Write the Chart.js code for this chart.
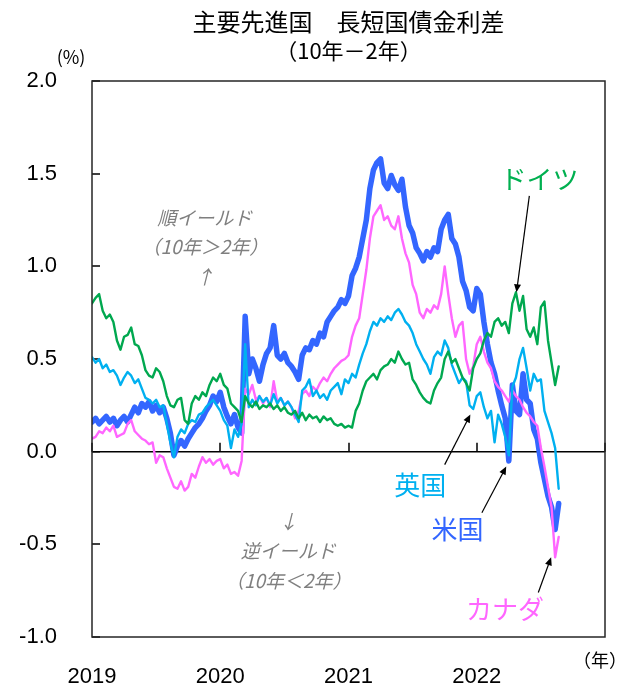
<!DOCTYPE html>
<html>
<head>
<meta charset="utf-8">
<script src="https://cdn.jsdelivr.net/npm/chart.js@4.4.1/dist/chart.umd.min.js"></script>
<style>
  html, body { margin: 0; padding: 0; background: #ffffff; }
  canvas { display: block; }
</style>
</head>
<body>
<canvas id="spreadChart" width="635" height="689"></canvas>
<script>
// 10-year minus 2-year government bond yield spread (%), three readings per month from Jan 2019
const START_YEAR = 2019;
const STEPS_PER_YEAR = 36;
const yearLabels = [2019, 2020, 2021, 2022];

const usSpread = [
  0.16, 0.18, 0.15, 0.17, 0.19, 0.16, 0.18, 0.14, 0.17, 0.19, 0.16, 0.20,
  0.24, 0.21, 0.26, 0.24, 0.27, 0.22, 0.25, 0.21, 0.24, 0.18, 0.10, -0.02,
  0.03, 0.06, 0.03, 0.07, 0.10, 0.13, 0.15, 0.18, 0.22, 0.25, 0.30, 0.27,
  0.32, 0.24, 0.19, 0.15, 0.20, 0.13, 0.10, 0.73, 0.42, 0.50, 0.45, 0.38,
  0.47, 0.53, 0.56, 0.68, 0.52, 0.50, 0.53, 0.48, 0.46, 0.43, 0.39, 0.52,
  0.56, 0.55, 0.60, 0.58, 0.64, 0.62, 0.70, 0.73, 0.76, 0.78, 0.82, 0.80,
  0.84, 0.95, 0.99, 1.05, 1.15, 1.25, 1.42, 1.52, 1.56, 1.58, 1.45, 1.42,
  1.49, 1.44, 1.41, 1.47, 1.32, 1.22, 1.18, 1.10, 1.07, 1.03, 1.08, 1.05,
  1.10, 1.08, 1.20, 1.25, 1.28, 1.15, 1.12, 1.05, 0.92, 0.87, 0.78, 0.76,
  0.88, 0.85, 0.70, 0.58, 0.48, 0.42, 0.33, 0.25, 0.18, -0.05, 0.36, 0.22,
  0.20, 0.42, 0.28, 0.26, 0.12, 0.07, -0.06, -0.15, -0.24, -0.30, -0.42, -0.28
];

const ukSpread = [
  0.51, 0.48, 0.50, 0.45, 0.47, 0.43, 0.44, 0.41, 0.36, 0.40, 0.43, 0.41,
  0.37, 0.39, 0.34, 0.29, 0.28, 0.26, 0.28, 0.24, 0.25, 0.15, 0.05, -0.03,
  0.08, 0.12, 0.10, 0.15, 0.17, 0.16, 0.20, 0.21, 0.24, 0.26, 0.28, 0.25,
  0.22, 0.17, 0.14, 0.02, 0.12, 0.08, 0.15, 0.58, 0.24, 0.28, 0.25, 0.30,
  0.27, 0.29, 0.25, 0.31, 0.26, 0.29, 0.25, 0.27, 0.24, 0.20, 0.16, 0.33,
  0.35, 0.39, 0.30, 0.33, 0.29, 0.31, 0.28, 0.33, 0.35, 0.37, 0.31, 0.39,
  0.37, 0.42, 0.40, 0.47, 0.53, 0.58, 0.65, 0.70, 0.68, 0.72, 0.70, 0.73,
  0.71, 0.75, 0.77, 0.74, 0.70, 0.68, 0.64, 0.58, 0.54, 0.50, 0.47, 0.42,
  0.51, 0.54, 0.52, 0.60, 0.56, 0.47, 0.42, 0.37, 0.40, 0.38, 0.25, 0.23,
  0.30, 0.32, 0.24, 0.18, 0.22, 0.05, 0.20, 0.15, 0.08, -0.02, 0.35, 0.40,
  0.50, 0.56, 0.45, 0.33, 0.42, 0.38, 0.39, 0.22, 0.16, 0.10, 0.02, -0.20
];

const deSpread = [
  0.80, 0.83, 0.85, 0.76, 0.72, 0.74, 0.70, 0.60, 0.55, 0.62, 0.63, 0.67,
  0.58, 0.57, 0.52, 0.44, 0.41, 0.40, 0.45, 0.43, 0.38, 0.30, 0.25, 0.24,
  0.28, 0.29, 0.17, 0.15, 0.26, 0.30, 0.28, 0.32, 0.30, 0.36, 0.40, 0.38,
  0.42, 0.36, 0.34, 0.26, 0.24, 0.22, 0.16, 0.30, 0.26, 0.24, 0.27, 0.23,
  0.25, 0.24, 0.26, 0.23, 0.25, 0.22, 0.24, 0.21, 0.20, 0.22, 0.18, 0.21,
  0.17, 0.20, 0.18, 0.19, 0.16, 0.19, 0.17, 0.18, 0.15, 0.14, 0.15, 0.13,
  0.14, 0.13, 0.22, 0.26, 0.33, 0.38, 0.40, 0.42, 0.39, 0.44, 0.46, 0.47,
  0.50, 0.48, 0.54, 0.50, 0.47, 0.48, 0.39, 0.36, 0.32, 0.29, 0.27, 0.26,
  0.33, 0.37, 0.40, 0.50, 0.54, 0.48, 0.50, 0.45, 0.40, 0.37, 0.33, 0.45,
  0.50, 0.53, 0.60, 0.64, 0.62, 0.70, 0.72, 0.68, 0.70, 0.64, 0.80, 0.86,
  0.76, 0.84, 0.66, 0.62, 0.67, 0.58, 0.78, 0.81, 0.60, 0.48, 0.36, 0.46
];

const caSpread = [
  0.07, 0.08, 0.11, 0.10, 0.13, 0.11, 0.14, 0.08, 0.09, 0.10, 0.15, 0.17,
  0.11, 0.09, 0.07, 0.06, 0.04, 0.05, -0.06, -0.02, -0.03, -0.09, -0.14, -0.19,
  -0.20, -0.16, -0.21, -0.19, -0.12, -0.14, -0.08, -0.03, -0.06, -0.04, -0.07, -0.05,
  -0.04, -0.09, -0.07, -0.12, -0.11, -0.13, -0.05, 0.34, 0.31, 0.36, 0.28, 0.30,
  0.26, 0.29, 0.24, 0.38, 0.27, 0.29, 0.25, 0.27, 0.24, 0.18, 0.22, 0.31,
  0.33, 0.30, 0.35, 0.33, 0.37, 0.40, 0.38, 0.42, 0.45, 0.47, 0.49, 0.50,
  0.52, 0.62, 0.68, 0.72, 0.85, 0.98, 1.15, 1.27, 1.30, 1.33, 1.25, 1.27,
  1.22, 1.20, 1.27, 1.15, 1.07, 1.02, 0.90, 0.85, 0.75, 0.72, 0.77, 0.75,
  0.79, 0.77, 0.85, 1.00, 0.85, 0.72, 0.62, 0.68, 0.70, 0.50, 0.42, 0.46,
  0.58, 0.62, 0.54, 0.48, 0.45, 0.38, 0.35, 0.33, 0.30, 0.27, 0.33, 0.30,
  0.28, 0.24, 0.21, 0.19, 0.16, 0.14, 0.02, -0.08, -0.19, -0.30, -0.57, -0.46
];

const FONT_JP = "'Noto Sans CJK JP', 'Noto Sans', sans-serif";
const FONT_NUM = "'Liberation Sans', 'DejaVu Sans', sans-serif";

const toPoints = (values) => values.map((v, i) => ({ x: START_YEAR + i / STEPS_PER_YEAR, y: v }));

const lineSet = (label, values, color, width) => ({
  label,
  data: toPoints(values),
  borderColor: color,
  backgroundColor: color,
  borderWidth: width,
  pointRadius: 0,
  tension: 0,
  borderJoinStyle: 'round',
  borderCapStyle: 'round',
  fill: false
});

// Text notes and pointer arrows, placed in data units (year, %)
const seriesNotes = [
  { text: 'ドイツ', color: '#00B050', at: [2022.49, 1.47], from: [2022.41, 1.38], to: [2022.31, 0.86] },
  { text: '英国', color: '#00B0F0', at: [2021.56, -0.18], from: [2021.75, -0.07], to: [2021.95, 0.20] },
  { text: '米国', color: '#3366FF', at: [2021.85, -0.42], from: [2022.04, -0.33], to: [2022.23, -0.08] },
  { text: 'カナダ', color: '#FF66FF', at: [2022.22, -0.85], from: [2022.48, -0.76], to: [2022.58, -0.57] }
];
const yieldNotes = [
  { lines: ['順イールド', '（10年＞2年）', '↑'], at: [2019.88, 1.263], dy: -0.16 },
  { lines: ['↓', '逆イールド', '（10年＜2年）'], at: [2020.53, -0.378], dy: -0.158 }
];

const decorPlugin = {
  id: 'decor',
  beforeDatasetsDraw(chart) {
    const { ctx, chartArea: a, scales: { x, y } } = chart;
    ctx.save();
    ctx.strokeStyle = '#000000';
    ctx.lineWidth = 1.5;
    const y0 = y.getPixelForValue(0);
    ctx.beginPath();
    ctx.moveTo(a.left, y0);
    ctx.lineTo(a.right, y0);
    // year tick marks standing on the zero line
    x.ticks.forEach(t => {
      const px = Math.round(x.getPixelForValue(t.value));
      ctx.moveTo(px, y0);
      ctx.lineTo(px, y0 - 9);
    });
    // inward value tick marks on the left frame
    y.ticks.forEach(t => {
      const py = Math.round(y.getPixelForValue(t.value));
      ctx.moveTo(a.left, py);
      ctx.lineTo(a.left + 8, py);
    });
    ctx.stroke();
    ctx.restore();
  },
  afterDraw(chart) {
    const { ctx, chartArea: a, scales: { x, y } } = chart;
    const px = (p) => [x.getPixelForValue(p[0]), y.getPixelForValue(p[1])];
    ctx.save();

    // plot frame
    ctx.strokeStyle = '#262626';
    ctx.lineWidth = 1.5;
    ctx.strokeRect(a.left, a.top, a.width, a.height);

    // title
    const cx = (a.left + a.right) / 2;
    ctx.fillStyle = '#000000';
    ctx.textAlign = 'center';
    ctx.textBaseline = 'middle';
    ctx.font = `24px ${FONT_JP}`;
    ctx.fillText('主要先進国　長短国債金利差', cx, 22);
    ctx.font = `22px ${FONT_JP}`;
    ctx.fillText('（10年－2年）', cx, 51);

    // unit labels
    ctx.font = `18px ${FONT_JP}`;
    ctx.fillText('(%)', 71, 57);
    ctx.fillText('（年）', 600, 660);

    // yield curve notes
    ctx.fillStyle = '#7F7F7F';
    ctx.font = `italic 19px ${FONT_JP}`;
    yieldNotes.forEach(n => {
      n.lines.forEach((s, k) => {
        const [tx, ty] = px([n.at[0], n.at[1] + n.dy * k]);
        ctx.fillText(s, tx, ty);
      });
    });

    // series names with pointer arrows
    seriesNotes.forEach(n => {
      const [tx, ty] = px(n.at);
      ctx.fillStyle = n.color;
      ctx.font = `26px ${FONT_JP}`;
      ctx.fillText(n.text, tx, ty);

      const [x1, y1] = px(n.from);
      const [x2, y2] = px(n.to);
      const ang = Math.atan2(y2 - y1, x2 - x1);
      const head = 8, half = 3.5;
      ctx.strokeStyle = '#000000';
      ctx.fillStyle = '#000000';
      ctx.lineWidth = 1.2;
      ctx.beginPath();
      ctx.moveTo(x1, y1);
      ctx.lineTo(x2 - Math.cos(ang) * head * 0.8, y2 - Math.sin(ang) * head * 0.8);
      ctx.stroke();
      ctx.beginPath();
      ctx.moveTo(x2, y2);
      ctx.lineTo(x2 - Math.cos(ang) * head + Math.sin(ang) * half, y2 - Math.sin(ang) * head - Math.cos(ang) * half);
      ctx.lineTo(x2 - Math.cos(ang) * head - Math.sin(ang) * half, y2 - Math.sin(ang) * head + Math.cos(ang) * half);
      ctx.closePath();
      ctx.fill();
    });

    ctx.restore();
  }
};

new Chart(document.getElementById('spreadChart'), {
  type: 'line',
  data: {
    datasets: [
      lineSet('ドイツ', deSpread, '#00A84F', 2.4),
      lineSet('英国', ukSpread, '#00B0F0', 2.4),
      lineSet('カナダ', caSpread, '#FF66FF', 2.4),
      lineSet('米国', usSpread, '#3366FF', 5.5)
    ]
  },
  options: {
    responsive: false,
    animation: false,
    layout: { padding: { left: 0, right: 30, top: 81, bottom: 0 } },
    plugins: {
      legend: { display: false },
      tooltip: { enabled: false },
      title: { display: false }
    },
    scales: {
      x: {
        type: 'linear',
        min: 2019,
        max: 2023,
        position: 'bottom',
        grid: { display: false, drawTicks: false },
        border: { display: false },
        ticks: {
          stepSize: 1,
          autoSkip: false,
          maxRotation: 0,
          padding: 27,
          color: '#000000',
          font: { family: FONT_NUM, size: 22 },
          callback: (v) => (yearLabels.includes(v) ? String(v) : '')
        },
        afterFit: (s) => { s.height = 52; }
      },
      y: {
        min: -1,
        max: 2,
        grid: { display: false, drawTicks: false },
        border: { display: false },
        ticks: {
          stepSize: 0.5,
          padding: 35,
          color: '#000000',
          font: { family: FONT_NUM, size: 22 },
          callback: (v) => v.toFixed(1)
        },
        afterFit: (s) => { s.width = 92; }
      }
    }
  },
  plugins: [decorPlugin]
});
</script>
</body>
</html>
